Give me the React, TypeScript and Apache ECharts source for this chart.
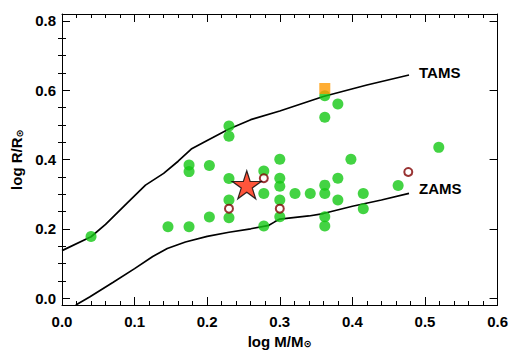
import React, { useEffect, useRef } from "react";
import * as echarts from "echarts";

const xTicks = [0, 0.1, 0.2, 0.3, 0.4, 0.5, 0.6];
const yMajor = [0, 0.2, 0.4, 0.6, 0.8];
const yMinor = [0.05, 0.1, 0.15, 0.25, 0.3, 0.35, 0.45, 0.5, 0.55, 0.65, 0.7, 0.75];

const tamsX = [0, 0.04, 0.06, 0.09, 0.115, 0.14, 0.16, 0.178, 0.2, 0.23, 0.26, 0.3, 0.36, 0.42, 0.478];
const tamsY = [0.137, 0.177, 0.213, 0.275, 0.326, 0.36, 0.395, 0.43, 0.455, 0.488, 0.515, 0.54, 0.582, 0.615, 0.644];

const zamsX = [0.019, 0.038, 0.07, 0.1, 0.125, 0.145, 0.17, 0.2, 0.23, 0.26, 0.285, 0.293, 0.3, 0.34, 0.36, 0.4, 0.44, 0.478];
const zamsY = [-0.02, 0.003, 0.045, 0.085, 0.12, 0.143, 0.162, 0.178, 0.19, 0.2, 0.21, 0.22, 0.228, 0.237, 0.244, 0.265, 0.283, 0.302];

const greenX = [0.04, 0.146, 0.175, 0.175, 0.175, 0.203, 0.203, 0.23, 0.23, 0.23, 0.23, 0.23,
  0.278, 0.278, 0.278, 0.3, 0.3, 0.3, 0.3, 0.3, 0.321, 0.342, 0.362, 0.362, 0.362, 0.362, 0.362, 0.362,
  0.38, 0.38, 0.38, 0.398, 0.415, 0.415, 0.463, 0.519];
const greenY = [0.178, 0.206, 0.206, 0.365, 0.384, 0.383, 0.234, 0.497, 0.467, 0.345, 0.283, 0.232,
  0.367, 0.302, 0.208, 0.401, 0.346, 0.323, 0.283, 0.235, 0.302, 0.302, 0.584, 0.522, 0.326, 0.302, 0.235, 0.208,
  0.56, 0.346, 0.283, 0.401, 0.302, 0.258, 0.325, 0.435];

const openX = [0.23, 0.278, 0.3, 0.477];
const openY = [0.258, 0.346, 0.258, 0.364];

const squareX = [0.362];
const squareY = [0.605];

const starX = [0.2545];
const starY = [0.327];

const zip = (xs: number[], ys: number[]) => xs.map((x, i) => [x, ys[i]]);

const STAR =
  "path://M50 0 L61.23 34.55 L97.55 34.55 L68.16 55.9 L79.39 90.45 L50 69.1 L20.61 90.45 L31.84 55.9 L2.45 34.55 L38.77 34.55 Z";

const FONT = "Liberation Sans";

export default function App() {
  const ref = useRef<HTMLDivElement>(null);
  useEffect(() => {
    document.body.style.margin = "0";
    const chart = echarts.init(ref.current!, null, { renderer: "svg" });
    const axisLineStyle = { color: "#000", width: 1 };
    const baseX = {
      type: "value",
      min: xTicks[0],
      max: xTicks[xTicks.length - 1],
      interval: 0.1,
      splitLine: { show: false },
      axisLine: { show: true, onZero: false, lineStyle: axisLineStyle },
      axisTick: { show: true, inside: true, length: 8, lineStyle: axisLineStyle },
      minorTick: { show: true, splitNumber: 5, length: 4, lineStyle: axisLineStyle },
      minorSplitLine: { show: false },
    };
    const baseY = {
      type: "value",
      min: -0.02,
      max: 0.82,
      splitLine: { show: false },
      axisLine: { show: false },
      axisLabel: { show: false },
    };
    const rich = {
      a: { fontFamily: FONT, fontSize: 15, color: "#000", fontWeight: "bold", verticalAlign: "bottom" },
      s: { fontFamily: "DejaVu Sans", fontSize: 10, color: "#000", fontWeight: "bold", padding: [6, 0, 0, 0], verticalAlign: "bottom" },
    };
    chart.setOption({
      animation: false,
      backgroundColor: "#fff",
      grid: { left: 62, right: 13, top: 14, bottom: 49 },
      xAxis: [
        {
          ...baseX,
          position: "bottom",
          axisLabel: {
            show: true,
            margin: 9,
            color: "#000",
            fontFamily: FONT,
            fontWeight: "bold",
            fontSize: 15,
            formatter: (v: number) => v.toFixed(1),
          },
          name: "{a|log M/M}{s|⊙}",
          nameLocation: "middle",
          nameGap: 25,
          nameTextStyle: { rich },
        },
        {
          ...baseX,
          position: "top",
          axisLabel: { show: false },
        },
      ],
      yAxis: [
        {
          ...baseY,
          position: "left",
          axisLine: { show: true, onZero: false, lineStyle: axisLineStyle },
          axisTick: { show: true, inside: true, length: 8, customValues: yMajor, lineStyle: axisLineStyle },
          axisLabel: {
            show: true,
            customValues: yMajor,
            margin: 6,
            color: "#000",
            fontFamily: FONT,
            fontWeight: "bold",
            fontSize: 15,
            formatter: (v: number) => v.toFixed(1),
          },
          name: "{a|log R/R}{s|⊙}",
          nameLocation: "middle",
          nameRotate: 90,
          nameGap: 36,
          nameTextStyle: { rich },
        },
        {
          ...baseY,
          position: "left",
          axisTick: { show: true, inside: true, length: 4, customValues: yMinor, lineStyle: axisLineStyle },
        },
        {
          ...baseY,
          position: "right",
          axisLine: { show: true, onZero: false, lineStyle: axisLineStyle },
          axisTick: { show: true, inside: true, length: 8, customValues: yMajor, lineStyle: axisLineStyle },
        },
        {
          ...baseY,
          position: "right",
          axisTick: { show: true, inside: true, length: 4, customValues: yMinor, lineStyle: axisLineStyle },
        },
      ],
      series: [
        {
          name: "TAMS",
          type: "line",
          data: zip(tamsX, tamsY),
          showSymbol: false,
          symbol: "none",
          lineStyle: { color: "#000", width: 1.7 },
          endLabel: { show: true, formatter: "TAMS", distance: 10, color: "#000", fontFamily: FONT, fontSize: 15, fontWeight: "bold", offset: [0, -2] },
          z: 2,
        },
        {
          name: "ZAMS",
          type: "line",
          data: zip(zamsX, zamsY),
          showSymbol: false,
          symbol: "none",
          lineStyle: { color: "#000", width: 1.7 },
          endLabel: { show: true, formatter: "ZAMS", distance: 10, color: "#000", fontFamily: FONT, fontSize: 15, fontWeight: "bold", offset: [0, -5] },
          z: 2,
        },
        {
          type: "scatter",
          data: zip(greenX, greenY),
          symbol: "circle",
          symbolSize: 11,
          itemStyle: { color: "#14c814" },
          z: 3,
        },
        {
          type: "scatter",
          data: zip(squareX, squareY),
          symbol: "rect",
          symbolSize: 11,
          itemStyle: { color: "#ff9900" },
          z: 3,
        },
        {
          type: "scatter",
          data: zip(openX, openY),
          symbol: "circle",
          symbolSize: 8,
          itemStyle: { color: "#fff", borderColor: "#800000", borderWidth: 2 },
          z: 4,
        },
        {
          type: "scatter",
          data: zip(starX, starY),
          symbol: STAR,
          symbolSize: [29, 28],
          itemStyle: { color: "#ff2a0a", borderColor: "#000", borderWidth: 1.2 },
          z: 5,
        },
      ],
    });
    return () => chart.dispose();
  }, []);
  return <div ref={ref} style={{ position: "fixed", left: 0, top: 0, width: 511, height: 354 }} />;
}
